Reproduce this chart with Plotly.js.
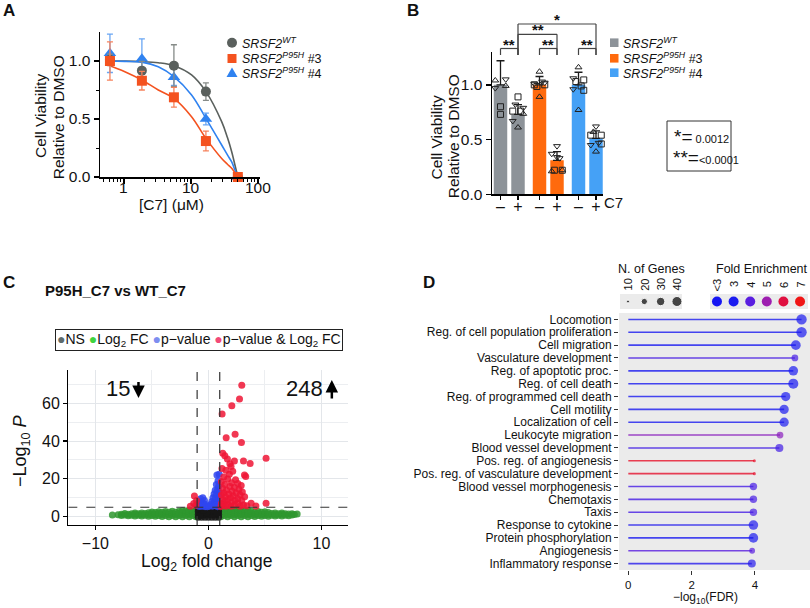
<!DOCTYPE html>
<html>
<head>
<meta charset="utf-8">
<script src="https://cdn.plot.ly/plotly-3.0.1.min.js"></script>
<style>
  html, body { margin: 0; padding: 0; background: #fff; }
  #fig { width: 810px; height: 608px; }
</style>
</head>
<body>
<div id="fig"></div>
<script>
// ---------------- Panel A: C7 dose response ----------------
const doseUM   = [0.617, 1.85, 5.56, 16.7, 50];
const doseTicks = [1, 10, 100];
const wtViab   = [1.01, 0.917, 0.96, 0.736, 0.0];
const wtSD     = [0.05, 0.08, 0.18, 0.075, 0.0];
const p3Viab   = [1.0, 0.83, 0.687, 0.31, 0.0];
const p3SD     = [0.165, 0.08, 0.085, 0.085, 0.0];
const p4Viab   = [1.066, 1.02, 0.86, 0.50, 0.0];
const p4SD     = [0.165, 0.17, 0.07, 0.05, 0.0];
// fitted dose-response curves, sampled along the fit
const fitDose  = [0.56, 1.03, 1.85, 3.25, 5.56, 10.2, 16.7, 28.7, 35, 40.5, 45, 50];
const wtFit    = [1.0, 0.999, 0.995, 0.985, 0.96, 0.88, 0.736, 0.477, 0.34, 0.218, 0.11, 0.0];
const p3Fit    = [0.968, 0.908, 0.836, 0.75, 0.678, 0.52, 0.333, 0.16, 0.11, 0.075, 0.04, 0.0];
const p4Fit    = [1.0, 0.997, 0.99, 0.95, 0.865, 0.707, 0.506, 0.276, 0.19, 0.13, 0.065, 0.0];
const lineLabels = ['<i>SRSF2</i><sup><i>WT</i></sup>',
                    '<i>SRSF2</i><sup><i>P95H</i></sup> #3',
                    '<i>SRSF2</i><sup><i>P95H</i></sup> #4'];

// ---------------- Panel B: viability with / without C7 ----------------
const treatment = ['–', '+'];
const meanNoC7  = [1.0, 1.0, 1.0];
const meanC7    = [0.73, 0.31, 0.51];
const sdNoC7    = [0.22, 0.076, 0.115];
const sdC7      = [0.09, 0.08, 0.07];
// replicate values (and marker shape) for each bar
const repWTminus = [1.04, 0.97, 1.05, 0.99, 0.80, 0.73];
const symWTminus = ['tu', 'td', 'td', 'tu', 'sq', 'sq'];
const repWTplus  = [0.76, 0.67, 0.735, 0.79, 0.89, 0.61, 0.82, 0.76];
const symWTplus  = ['sq', 'td', 'tu', 'td', 'sq', 'tu', 'td', 'sq'];
const repP3minus = [1.0, 1.01, 1.02, 1.0, 1.12, 0.89, 0.985, 1.03];
const symP3minus = ['sq', 'td', 'td', 'sq', 'tu', 'tu', 'sq', 'td'];
const repP3plus  = [0.21, 0.37, 0.22, 0.22, 0.44, 0.34, 0.22, 0.33];
const symP3plus  = ['tu', 'td', 'sq', 'tu', 'td', 'td', 'sq', 'td'];
const repP4minus = [1.06, 0.96, 1.045, 0.95, 1.16, 0.77, 1.03, 0.99];
const symP4minus = ['td', 'td', 'sq', 'sq', 'tu', 'tu', 'sq', 'sq'];
const repP4plus  = [0.54, 0.45, 0.54, 0.46, 0.62, 0.39, 0.57, 0.47];
const symP4plus  = ['sq', 'td', 'sq', 'sq', 'td', 'tu', 'tu', 'td'];
const sigTests = [
  {a: 0, b: 1, label: '**'}, {a: 2, b: 3, label: '**'}, {a: 4, b: 5, label: '**'},
  {a: 1, b: 3, label: '**'}, {a: 1, b: 5, label: '*'}
];

// ---------------- Panel C: volcano, P95H_C7 vs WT_C7 ----------------
const FC_CUTOFF = 1;
const P_CUTOFF = 1e-5;
const upDown = ['15', '248'];
const sigBoth = [ // p-value & log2 FC
  [2.95,69.5],[2.75,62.3],[2.07,58.7],[1.21,54.3],[2.36,43.6],[1.57,41.8],[2.92,39.2],
  [1.27,33.5],[1.45,32.2],[1.68,30.5],[2.3,29.5],[3.1,29.5],[3.69,28.2],[5.1,30.9],
  [1.9,28.0],[2.0,26.5],[1.2,25.5],[1.55,24.5],[2.15,24],[1.85,22.5],[3.19,22],[3.3,21.3],
  [1.35,21],[1.7,20],[2.4,19.5],[1.15,18.5],[2.05,18],[2.6,17.5],[1.45,17],[2.9,16.5],
  [1.9,16],[2.3,15.5],[1.25,15],[2.7,14.5],[1.6,14],[2.1,13.5],[3.0,13],[1.35,12.5],
  [2.45,12.5],[1.8,12],[1.15,11.5],[2.8,11.5],[2.2,11],[1.5,10.5],[3.2,10.5],[1.95,10],
  [2.6,9.5],[1.25,9],[1.7,9],[2.35,8.5],[2.95,8.5],[1.45,8],[2.05,7.5],[1.15,7],
  [3.78,7.1],[5.1,7.1],[2.6,7],[1.75,6.5],[1.3,6],[2.3,6],[3.1,6.2],[1.55,5.5],[2.0,5.5],
  [2.8,5.5],[1.1,5.3],[4.2,5.6],[3.4,5.8],
  [-1.24,11],[-1.3,7],[-1.1,6],[-1.6,5.5],[-1.05,8.5]
];
const sigP = [ // p-value only
  [0.75,22],[0.95,22.5],[0.85,19],[0.7,17],[0.9,16],[0.6,14],[0.8,14],[0.95,13],
  [0.5,12],[0.7,11.5],[0.9,11],[0.4,10],[0.6,9.5],[0.85,9],[0.3,8],[0.5,7.5],[0.75,7.5],
  [0.95,7],[0.2,6.5],[0.45,6],[0.65,6],[0.9,6],[0.35,5.5],[0.8,5.3],
  [-0.5,10],[-0.7,9.5],[-0.35,8.5],[-0.6,8],[-0.85,7.5],[-0.45,7],[-0.25,6.5],[-0.7,6.2],
  [-0.95,6],[-0.55,5.5],[-0.3,5.3],[-0.8,5.4],[-0.1,5.2],[0.05,5.5]
];
const notSig = [
  [-0.9,-0.3],[-0.6,-0.3],[-0.3,-0.3],[0,-0.3],[0.3,-0.3],[0.6,-0.3],[0.9,-0.3],
  [-0.9,1.2],[-0.6,1.2],[-0.3,1.2],[0,1.2],[0.3,1.2],[0.6,1.2],[0.9,1.2],
  [-0.9,2.7],[-0.6,2.7],[-0.3,2.7],[0,2.7],[0.3,2.7],[0.6,2.7],[0.9,2.7],
  [-0.9,4.0],[-0.6,4.0],[-0.3,4.0],[0,4.0],[0.3,4.0],[0.6,4.0],[0.9,4.0],
  [-0.75,0.5],[-0.15,2.0],[0.45,3.3],[0.75,2.0],[-0.45,3.3]
];
const fcOnly = [ // log2 FC only
  [-1.1,0.0],[-1.1,1.2],[-1.1,2.4],[-1.1,3.4],[-1.4,0.6],[-1.4,1.8],[-1.4,3.0],
  [-1.7,0.0],[-1.7,1.2],[-1.7,2.4],[-1.7,3.5],[-2.0,0.6],[-2.0,1.8],[-2.0,3.0],
  [-2.3,0.0],[-2.3,1.2],[-2.3,2.4],[-2.3,3.3],[-2.6,0.6],[-2.6,1.8],[-2.6,2.9],
  [-2.9,0.0],[-2.9,1.2],[-2.9,2.4],[-3.2,0.6],[-3.2,1.8],[-3.2,2.9],
  [-3.5,0.0],[-3.5,1.2],[-3.5,2.4],[-3.8,0.6],[-3.8,1.8],[-3.8,2.7],
  [-4.1,0.1],[-4.1,1.2],[-4.1,2.3],[-4.4,0.6],[-4.4,1.7],[-4.4,2.6],[-4.7,0.2],[-4.7,1.2],
  [-4.7,2.2],[-5.0,0.6],[-5.0,1.6],[-5.0,2.5],[-5.3,0.2],[-5.3,1.2],[-5.3,2.1],[-5.6,0.7],
  [-5.6,1.7],[-5.9,0.3],[-5.9,1.2],[-5.9,2.0],[-6.2,0.7],[-6.2,1.6],[-6.5,0.4],[-6.5,1.3],
  [-6.5,2.0],[-6.8,0.8],[-6.8,1.6],[-7.1,0.5],[-7.1,1.3],[-7.4,0.9],[-7.4,1.7],[-7.7,0.6],
  [-7.7,1.3],[-8.0,1.0],[-8.5,0.9],
  [1.1,0.0],[1.1,1.2],[1.1,2.4],[1.1,3.5],[1.4,0.6],[1.4,1.8],[1.4,3.0],[1.4,4.0],
  [1.7,0.0],[1.7,1.2],[1.7,2.4],[1.7,3.5],[2.0,0.6],[2.0,1.8],[2.0,3.0],[2.0,4.0],
  [2.3,0.0],[2.3,1.2],[2.3,2.4],[2.3,3.5],[2.6,0.6],[2.6,1.8],[2.6,3.0],[2.6,4.0],
  [2.9,0.0],[2.9,1.2],[2.9,2.4],[2.9,3.4],[3.2,0.6],[3.2,1.8],[3.2,3.0],[3.5,0.0],
  [3.5,1.2],[3.5,2.4],[3.5,3.4],[3.8,0.6],[3.8,1.8],[3.8,2.9],[4.1,0.1],[4.1,1.2],
  [4.1,2.4],[4.4,0.6],[4.4,1.7],[4.4,2.7],[4.7,0.2],[4.7,1.2],[4.7,2.3],[5.0,0.6],
  [5.0,1.6],[5.0,2.6],[5.3,0.2],[5.3,1.2],[5.3,2.2],[5.6,0.7],[5.6,1.7],[5.9,0.3],
  [5.9,1.2],[5.9,2.0],[6.2,0.7],[6.2,1.6],[6.5,0.4],[6.5,1.3],[6.5,2.0],[6.8,0.8],
  [6.8,1.6],[7.1,0.5],[7.1,1.4],[7.4,0.9],[7.4,1.6],[7.6,1.2],[7.85,1.4]
];

// ---------------- Panel D: GO enrichment lollipop ----------------
const goTerms = ['Locomotion', 'Reg. of cell population proliferation', 'Cell migration',
  'Vasculature development', 'Reg. of apoptotic proc.', 'Reg. of cell death',
  'Reg. of programmed cell death', 'Cell motility', 'Localization of cell',
  'Leukocyte migration', 'Blood vessel development', 'Pos. reg. of angiogenesis',
  'Pos. reg. of vasculature development', 'Blood vessel morphogenesis', 'Chemotaxis',
  'Taxis', 'Response to cytokine', 'Protein phosphorylation', 'Angiogenesis',
  'Inflammatory response'];
const negLogFDR = [5.47, 5.47, 5.29, 5.26, 5.21, 5.21, 4.97, 4.92, 4.92, 4.79, 4.77,
                   3.98, 3.98, 3.95, 3.95, 3.95, 3.95, 3.95, 3.91, 3.90];
const nGenes    = [42, 42, 38, 22, 37, 40, 35, 35, 35, 22, 28, 10, 10, 25, 25, 25, 37, 37, 18, 28];
const foldEnr   = [3.0, 2.8, 3.0, 3.7, 2.9, 2.8, 2.9, 3.0, 3.0, 4.7, 3.6, 6.5, 6.4, 3.7,
                   3.7, 3.7, 3.1, 3.0, 4.0, 3.2];
const geneLegend = [10, 20, 30, 40];
const feLegend   = [2.5, 3, 4, 5, 6, 7];
const feLegendText = ['&lt;3', '3', '4', '5', '6', '7'];

// ================= drawing =================
const W = 810, H = 608;
const fx = p => p / W;
const fy = p => 1 - p / H;
const FONT = 'Liberation Sans, Arial, Helvetica, sans-serif';

const colA = {wt: '#5a605d', p3: '#f4521f', p4: '#2f82f0'};
const errA = {wt: '#868b88', p3: '#f6825c', p4: '#6aa6f3'};
const colB = ['#8d9399', '#ff6a0d', '#45a1f6'];
const volc = {ns: '#161616', fc: '#2e962e', p: '#2f45f0', both: '#ee1535'};
const volcKey = {ns: '#5f6b6b', fc: '#3fd43f', p: '#7d8ef0', both: '#f24a78'};

const traces = [];

// ---- A
[[wtFit, 'wt'], [p4Fit, 'p4'], [p3Fit, 'p3']].forEach(([fit, k]) => {
  traces.push({type: 'scatter', mode: 'lines', x: fitDose, y: fit, xaxis: 'x', yaxis: 'y',
    line: {color: colA[k], width: 1.6, shape: 'spline'}, cliponaxis: false});
});
[[p4Viab, p4SD, 'p4', 'triangle-up'], [wtViab, wtSD, 'wt', 'circle'],
 [p3Viab, p3SD, 'p3', 'square']].forEach(([v, sd, k, sym]) => {
  traces.push({type: 'scatter', mode: 'markers', x: doseUM, y: v, xaxis: 'x', yaxis: 'y',
    marker: {symbol: sym, size: sym === 'triangle-up' ? 11 : 10, color: colA[k]},
    error_y: {type: 'data', array: sd, color: errA[k], thickness: 1.3, width: 3},
    cliponaxis: false});
});

// ---- B
const GROUP_STEP = 39 / 17.5;
const barPos = [];
const barMean = [], barSD = [], barCol = [];
for (let g = 0; g < 3; g++) {
  for (let t = 0; t < 2; t++) {
    barPos.push(g * GROUP_STEP + (t === 0 ? -0.5 : 0.5));
    barMean.push(t === 0 ? meanNoC7[g] : meanC7[g]);
    barSD.push(t === 0 ? sdNoC7[g] : sdC7[g]);
    barCol.push(colB[g]);
  }
}
traces.push({type: 'bar', x: barPos, y: barMean, width: 0.77, xaxis: 'x2', yaxis: 'y2',
  marker: {color: barCol, line: {width: 0}},
  error_y: {type: 'data', symmetric: false, array: barSD, arrayminus: barSD.map(() => 0),
            color: '#1a1a1a', thickness: 1.3, width: 4}});
const JITTER = [-0.3, -0.3, 0.3, 0.3, 0, 0, -0.15, 0.15];
const SYM = {tu: 'triangle-up-open', td: 'triangle-down-open', sq: 'square-open'};
const reps = [[repWTminus, symWTminus], [repWTplus, symWTplus], [repP3minus, symP3minus],
              [repP3plus, symP3plus], [repP4minus, symP4minus], [repP4plus, symP4plus]];
const rx = [], ry = [], rs = [];
reps.forEach(([vals, syms], i) => {
  vals.forEach((v, j) => { rx.push(barPos[i] + JITTER[j]); ry.push(v); rs.push(SYM[syms[j]]); });
});
traces.push({type: 'scatter', mode: 'markers', x: rx, y: ry, xaxis: 'x2', yaxis: 'y2',
  marker: {symbol: rs, size: 6, color: '#222', line: {width: 1, color: '#222'}}, cliponaxis: false});

// ---- C
[[fcOnly, 'fc'], [notSig, 'ns'], [sigP, 'p'], [sigBoth, 'both']].forEach(([pts, k]) => {
  traces.push({type: 'scatter', mode: 'markers', xaxis: 'x3', yaxis: 'y3',
    x: pts.map(p => p[0]), y: pts.map(p => p[1]),
    marker: {size: 7, color: volc[k], opacity: 0.85, line: {width: 0}}});
});

// ---- D
const feStops = [[2, [16, 16, 245]], [3, [28, 28, 240]], [4, [90, 30, 224]],
                 [5, [158, 30, 176]], [6, [224, 16, 64]], [7, [240, 21, 21]]];
function feColor(v) {
  v = Math.max(2, Math.min(7, v));
  for (let i = 0; i < feStops.length - 1; i++) {
    const [a, ca] = feStops[i], [b, cb] = feStops[i + 1];
    if (v <= b) {
      const t = (v - a) / (b - a);
      const c = ca.map((x, j) => Math.round(x + (cb[j] - x) * t));
      return `rgb(${c[0]},${c[1]},${c[2]})`;
    }
  }
  return 'rgb(240,21,21)';
}
const geneSize = n => 1.75 * Math.sqrt(n - 7);
goTerms.forEach((term, i) => {
  traces.push({type: 'scatter', mode: 'lines', x: [0, negLogFDR[i]], y: [term, term],
    xaxis: 'x4', yaxis: 'y4', line: {color: feColor(foldEnr[i]), width: 1.6}, opacity: 0.8});
});
traces.push({type: 'scatter', mode: 'markers', x: negLogFDR, y: goTerms, xaxis: 'x4', yaxis: 'y4',
  marker: {size: nGenes.map(geneSize), color: foldEnr.map(feColor), line: {width: 0}},
  cliponaxis: false});
traces.push({type: 'scatter', mode: 'markers', x: geneLegend.map((_, i) => i),
  y: geneLegend.map(() => 0), xaxis: 'x5', yaxis: 'y5',
  marker: {size: geneLegend.map(geneSize), color: '#000'}});
traces.push({type: 'scatter', mode: 'markers', x: feLegend.map((_, i) => i),
  y: feLegend.map(() => 0), xaxis: 'x6', yaxis: 'y6',
  marker: {size: 10, color: feLegend.map(feColor)}});

// ---- axes
const tf = s => ({family: FONT, size: s, color: '#111'});
const baseAx = {showgrid: false, zeroline: false, showline: true, linecolor: '#000',
  linewidth: 1.5, ticks: 'outside', tickcolor: '#000', tickwidth: 1.5, ticklen: 5,
  fixedrange: true};
const hidden = {visible: false, fixedrange: true};

const layout = {
  width: W, height: H, margin: {l: 0, r: 0, t: 0, b: 0},
  paper_bgcolor: '#fff', plot_bgcolor: 'rgba(0,0,0,0)',
  showlegend: false, hovermode: false, font: {family: FONT, color: '#111'},
  xaxis: Object.assign({}, baseAx, {domain: [fx(100), fx(260)], anchor: 'y', type: 'log',
    range: [-0.358, 2.03], tickmode: 'array', tickvals: doseTicks, showticklabels: false,
    minor: {ticks: 'outside', ticklen: 3, tickwidth: 1, tickcolor: '#000', showgrid: false,
      tickvals: [0.5, 0.6, 0.7, 0.8, 0.9, 2, 3, 4, 5, 6, 7, 8, 9, 20, 30, 40, 50, 60, 70, 80, 90]}}),
  yaxis: Object.assign({}, baseAx, {domain: [fy(177), fy(32)], anchor: 'x', range: [0, 1.25],
    tickvals: [0, 0.5, 1], ticktext: ['0.0', '0.5', '1.0'], tickfont: tf(15.5),
    minor: {ticks: 'outside', ticklen: 3, tickwidth: 1, tickcolor: '#000', showgrid: false,
      tickvals: [0.25, 0.75]}}),
  xaxis2: Object.assign({}, baseAx, {domain: [fx(492), fx(603)], anchor: 'y2',
    range: [-0.986, 5.357], tickvals: barPos, ticktext: barPos.map((_, i) => treatment[i % 2]),
    tickfont: tf(16), ticklen: 4, ticklabelstandoff: -7}),
  yaxis2: Object.assign({}, baseAx, {domain: [fy(194.3), fy(52)], anchor: 'x2', range: [0, 1.3],
    tickvals: [0, 0.5, 1], ticktext: ['0.0', '0.5', '1.0'], tickfont: tf(15.5)}),
  xaxis3: Object.assign({}, baseAx, {domain: [fx(68.3), fx(348)], anchor: 'y3',
    range: [-12.4, 12.35], dtick: 10, tick0: 0, tickfont: tf(16), linewidth: 1.2,
    tickwidth: 1.2, ticklen: 4, showgrid: true, gridcolor: '#e3e6ea', gridwidth: 1,
    minor: {dtick: 5, tick0: 0, showgrid: true, gridcolor: '#eceef1', gridwidth: 1}}),
  yaxis3: Object.assign({}, baseAx, {domain: [fy(525), fy(370)], anchor: 'x3',
    range: [-4.4, 77.6], dtick: 20, tick0: 0, tickfont: tf(16), linewidth: 1.2,
    tickwidth: 1.2, ticklen: 4, showgrid: true, gridcolor: '#e3e6ea', gridwidth: 1,
    minor: {dtick: 10, tick0: 0, showgrid: true, gridcolor: '#eceef1', gridwidth: 1}}),
  xaxis4: {domain: [fx(619), fx(810)], anchor: 'y4', range: [-0.294, 5.737],
    showgrid: false, zeroline: false, showline: false, ticks: 'outside', ticklen: 4,
    tickcolor: '#333', tickwidth: 1, tickvals: [0, 2, 4], tickfont: tf(11.5), fixedrange: true},
  yaxis4: {domain: [fy(570), fy(313)], anchor: 'x4', type: 'category',
    categoryorder: 'array', categoryarray: goTerms, range: [19.5, -0.5],
    tickmode: 'array', tickvals: goTerms, ticktext: goTerms,
    showgrid: false, zeroline: false, showline: false, ticks: 'outside', ticklen: 4,
    tickcolor: '#333', tickwidth: 1, tickfont: tf(12), fixedrange: true},
  xaxis5: Object.assign({domain: [fx(620), fx(682)], anchor: 'y5', range: [-0.49, 3.31]}, hidden),
  yaxis5: Object.assign({domain: [fy(309), fy(294)], anchor: 'x5', range: [-1, 1]}, hidden),
  xaxis6: Object.assign({domain: [fx(710), fx(808)], anchor: 'y6', range: [-0.42, 5.48]}, hidden),
  yaxis6: Object.assign({domain: [fy(309), fy(294)], anchor: 'x6', range: [-1, 1]}, hidden)
};

// ---- shapes
const shapes = [];
// D panel background and legend keys
shapes.push({type: 'rect', xref: 'paper', yref: 'paper', x0: fx(619), x1: fx(810),
  y0: fy(570), y1: fy(313), fillcolor: '#ebebeb', line: {width: 0}, layer: 'below'});
shapes.push({type: 'rect', xref: 'paper', yref: 'paper', x0: fx(620), x1: fx(682),
  y0: fy(309), y1: fy(294), fillcolor: '#ebebeb', line: {width: 0}, layer: 'below'});
shapes.push({type: 'rect', xref: 'paper', yref: 'paper', x0: fx(710), x1: fx(808),
  y0: fy(309), y1: fy(294), fillcolor: '#ebebeb', line: {width: 0}, layer: 'below'});
// A legend keys
shapes.push({type: 'circle', xref: 'paper', yref: 'paper', x0: fx(227), x1: fx(237),
  y0: fy(47.7), y1: fy(37.7), fillcolor: colA.wt, line: {width: 0}});
shapes.push({type: 'rect', xref: 'paper', yref: 'paper', x0: fx(227.5), x1: fx(236.5),
  y0: fy(63), y1: fy(54), fillcolor: colA.p3, line: {width: 0}});
shapes.push({type: 'path', xref: 'paper', yref: 'paper',
  path: `M ${fx(232)},${fy(67.5)} L ${fx(237.5)},${fy(77)} L ${fx(226.5)},${fy(77)} Z`,
  fillcolor: colA.p4, line: {width: 0}});
// B legend keys
[42.7, 58.3, 72.7].forEach((yy, i) => {
  shapes.push({type: 'rect', xref: 'paper', yref: 'paper', x0: fx(610), x1: fx(618.5),
    y0: fy(yy + 4.3), y1: fy(yy - 4.3), fillcolor: colB[i], line: {width: 0}});
});
// B significance brackets
const sigLevel = [48.5, 48.5, 48.5, 34.3, 24];
const dropTo = 55;
sigTests.forEach((s, i) => {
  const L = {color: '#444', width: 1.2};
  const yl = fy(sigLevel[i]);
  shapes.push({type: 'line', xref: 'x2', yref: 'paper', x0: barPos[s.a], x1: barPos[s.b], y0: yl, y1: yl, line: L});
  shapes.push({type: 'line', xref: 'x2', yref: 'paper', x0: barPos[s.a], x1: barPos[s.a], y0: yl, y1: fy(dropTo), line: L});
  shapes.push({type: 'line', xref: 'x2', yref: 'paper', x0: barPos[s.b], x1: barPos[s.b], y0: yl, y1: fy(dropTo), line: L});
});
// B p-value key box
shapes.push({type: 'rect', xref: 'paper', yref: 'paper', x0: fx(667), x1: fx(731),
  y0: fy(171), y1: fy(121), line: {color: '#333', width: 1}, fillcolor: 'rgba(0,0,0,0)'});
// C cutoff lines
const pLine = -Math.log10(P_CUTOFF);
[-FC_CUTOFF, FC_CUTOFF].forEach(v => {
  shapes.push({type: 'line', xref: 'x3', yref: 'y3', x0: v, x1: v, y0: -4.4, y1: 77.6,
    line: {color: '#333', width: 1.2, dash: 'dash'}});
});
shapes.push({type: 'line', xref: 'x3', yref: 'y3', x0: -12.4, x1: 12.35, y0: pLine, y1: pLine,
  line: {color: '#333', width: 1.2, dash: 'dash'}});

// ---- annotations
const ann = [];
function T(text, x, y, size, extra) {
  ann.push(Object.assign({text, x: fx(x), y: fy(y), xref: 'paper', yref: 'paper',
    showarrow: false, xanchor: 'center', yanchor: 'middle',
    font: {family: FONT, size, color: '#111'}}, extra || {}));
}
T('<b>A</b>', 1, 10, 17, {xanchor: 'left'});
T('<b>B</b>', 405, 10, 17, {xanchor: 'left'});
T('<b>C</b>', 1, 282, 17, {xanchor: 'left'});
T('<b>D</b>', 421, 282, 17, {xanchor: 'left'});
// A tick labels (log axis), titles and legend
doseTicks.forEach(v => {
  ann.push({text: String(v), xref: 'x', yref: 'paper', x: Math.log10(v), y: fy(187.5),
    showarrow: false, xanchor: 'center', yanchor: 'middle', font: tf(15.5)});
});
T('Cell Viability', 41, 116, 15.5, {textangle: -90});
T('Relative to DMSO', 58.3, 117, 15.5, {textangle: -90});
T('[C7] (μM)', 171, 204, 15.5);
[42.7, 58.5, 72.7].forEach((yy, i) => T(lineLabels[i], 240, yy, 12.5, {xanchor: 'left'}));
// B titles and legend
T('Cell Viability', 436, 137.5, 15.5, {textangle: -90});
T('Relative to DMSO', 453.3, 136, 15.5, {textangle: -90});
T('C7', 613, 202, 15);
[42.7, 58.3, 72.7].forEach((yy, i) => T(lineLabels[i], 621, yy, 12.5, {xanchor: 'left'}));
sigTests.forEach((s, i) => {
  ann.push({text: '<b>' + s.label + '</b>', xref: 'x2', yref: 'paper',
    x: (barPos[s.a] + barPos[s.b]) / 2, y: fy(sigLevel[i] + 6), showarrow: false,
    xanchor: 'center', yanchor: 'bottom', font: {family: FONT, size: 15, color: '#111'}});
});
T('<span style="font-size:19px">*=</span><span style="font-size:11px"> 0.0012</span>', 672, 136, 11, {xanchor: 'left'});
T('<span style="font-size:19px">**=</span><span style="font-size:11px">&lt;0.0001</span>', 671, 157, 11, {xanchor: 'left'});
// C title, legend, counts, axis titles
T('<b>P95H_C7 vs WT_C7</b>', 43, 290, 15, {xanchor: 'left'});
ann.push({text: `<span style="color:${volcKey.ns}">●</span>NS <span style="color:${volcKey.fc}">●</span>Log<sub>2</sub> FC <span style="color:${volcKey.p}">●</span>p−value <span style="color:${volcKey.both}">●</span>p−value &amp; Log<sub>2</sub> FC`,
  x: fx(198.5), y: fy(339.5), xref: 'paper', yref: 'paper', showarrow: false,
  xanchor: 'center', yanchor: 'middle', bordercolor: '#222', borderwidth: 1, borderpad: 1,
  bgcolor: '#fff', font: {family: FONT, size: 14, color: '#111'}});
ann.push({text: upDown[0], xref: 'x3', yref: 'y3', x: -8.04, y: 67.6, showarrow: false,
  font: {family: FONT, size: 22, color: '#111'}});
ann.push({text: upDown[1], xref: 'x3', yref: 'y3', x: 8.51, y: 67.6, showarrow: false,
  font: {family: FONT, size: 22, color: '#111'}});
ann.push({text: '', xref: 'x3', yref: 'y3', x: -6.19, y: 62.8, axref: 'x3', ayref: 'y3',
  ax: -6.19, ay: 72.0, showarrow: true, arrowhead: 2, arrowsize: 1, arrowwidth: 2.5, arrowcolor: '#000'});
ann.push({text: '', xref: 'x3', yref: 'y3', x: 10.92, y: 72.3, axref: 'x3', ayref: 'y3',
  ax: 10.92, ay: 61.7, showarrow: true, arrowhead: 2, arrowsize: 1, arrowwidth: 2.5, arrowcolor: '#000'});
T('−Log<sub>10</sub> <i>P</i>', 21, 451, 18, {textangle: -90});
T('Log<sub>2</sub> fold change', 207, 562, 17.5);
// D titles and legend labels
T('N. of Genes', 651.7, 269.5, 12.5);
T('Fold Enrichment', 761.7, 268.5, 12.5);
T('−log<sub>10</sub>(FDR)', 705.6, 598, 12);
geneLegend.forEach((n, i) => {
  ann.push({text: String(n), xref: 'x5', yref: 'paper', x: i, y: fy(284.5), showarrow: false,
    textangle: -90, xanchor: 'center', yanchor: 'middle', font: {family: FONT, size: 11, color: '#111'}});
});
feLegendText.forEach((s, i) => {
  ann.push({text: s, xref: 'x6', yref: 'paper', x: i, y: fy(284.5), showarrow: false,
    textangle: -90, xanchor: 'center', yanchor: 'middle', font: {family: FONT, size: 11, color: '#111'}});
});

layout.shapes = shapes;
layout.annotations = ann;

Plotly.newPlot('fig', traces, layout, {staticPlot: true, displayModeBar: false});
</script>
</body>
</html>
